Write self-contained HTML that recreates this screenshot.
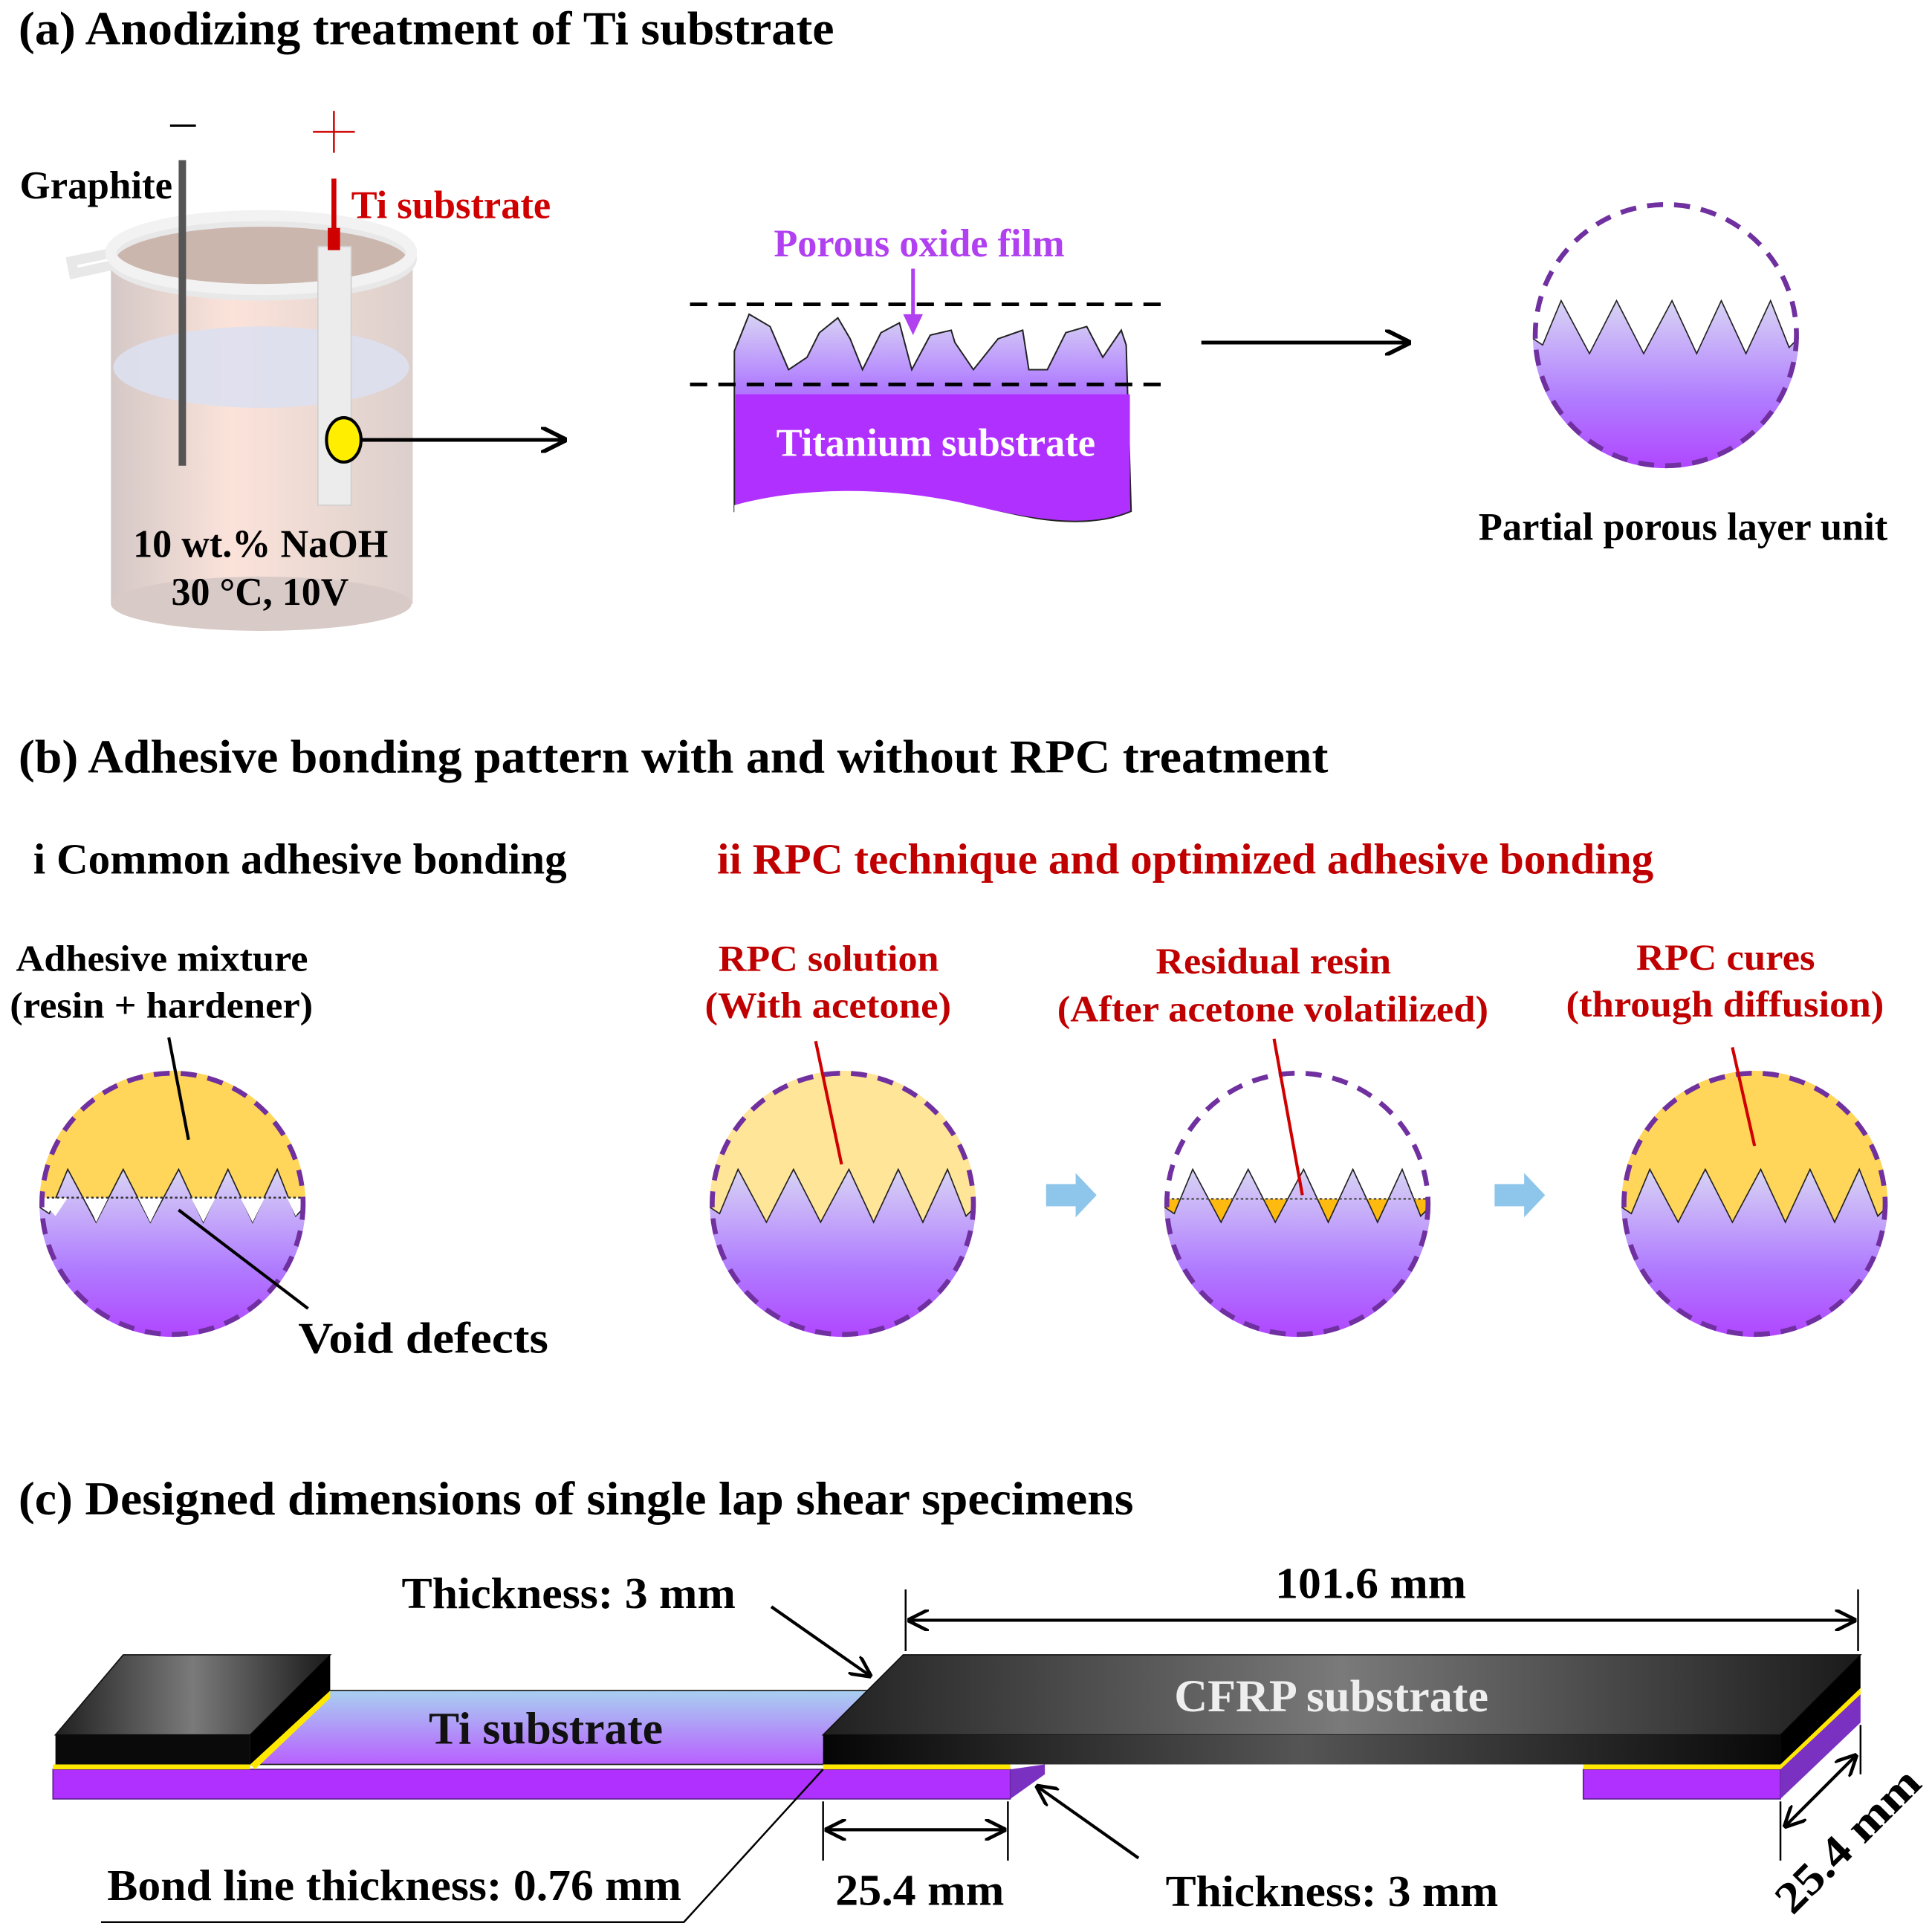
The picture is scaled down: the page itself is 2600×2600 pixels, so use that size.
<!DOCTYPE html>
<html><head><meta charset="utf-8"><style>
html,body{margin:0;padding:0;background:#fff}
svg{display:block}
text{font-family:"Liberation Serif",serif;font-weight:bold}
</style></head><body>
<svg width="2600" height="2600" viewBox="0 0 1568 1568" xmlns="http://www.w3.org/2000/svg">
<defs>
<linearGradient id="pg" x1="0" y1="0" x2="0" y2="1">
<stop offset="0" stop-color="#d8d4f4"/><stop offset="0.35" stop-color="#b07cff"/><stop offset="0.7" stop-color="#b030ff"/><stop offset="1" stop-color="#b030ff"/></linearGradient>
<linearGradient id="beak" x1="0" y1="0" x2="1" y2="0">
<stop offset="0" stop-color="#cfc2c0"/><stop offset="0.4" stop-color="#fbe0d6"/><stop offset="1" stop-color="#d8cac6"/></linearGradient>
<linearGradient id="tig" x1="0" y1="0" x2="0" y2="1">
<stop offset="0" stop-color="#a8d0f0"/><stop offset="1" stop-color="#b860ff"/></linearGradient>
<linearGradient id="cf" x1="0" y1="0" x2="1" y2="0">
<stop offset="0" stop-color="#202020"/><stop offset="0.5" stop-color="#7a7a7a"/><stop offset="1" stop-color="#1a1a1a"/></linearGradient>
<linearGradient id="cff" x1="0" y1="0" x2="1" y2="0">
<stop offset="0" stop-color="#050505"/><stop offset="0.5" stop-color="#555"/><stop offset="1" stop-color="#080808"/></linearGradient>
<marker id="ah" viewBox="0 0 10 10" refX="9" refY="5" markerWidth="7" markerHeight="7" orient="auto-start-reverse"><path d="M0,0 L10,5 L0,10" fill="none" stroke="#000" stroke-width="1.6"/></marker>
<clipPath id="c1"><circle cx="0" cy="0" r="108"/></clipPath>
<path id="teeth" d="M-115,200 L-115,-2 L-100,8 L-85,-28 L-62,15 L-40,-28 L-18,15 L5,-28 L25,15 L45,-28 L65,15 L85,-28 L100,10 L115,-5 L115,200 Z"/>
</defs>

<g lengthAdjust="spacingAndGlyphs">
<text x="15" y="36" font-size="38" textLength="662" lengthAdjust="spacingAndGlyphs">(a) Anodizing treatment of Ti substrate</text>
<text x="15" y="627" font-size="38" textLength="1063" lengthAdjust="spacingAndGlyphs">(b) Adhesive bonding pattern with and without RPC treatment</text>
<text x="15" y="1229" font-size="38" textLength="905" lengthAdjust="spacingAndGlyphs">(c) Designed dimensions of single lap shear specimens</text>
</g>

<!-- (a) beaker -->
<rect x="90" y="205" width="245" height="285" fill="url(#beak)" opacity="0.9"/>
<ellipse cx="212" cy="490" rx="122" ry="22" fill="#d8cac6"/>
<ellipse cx="212" cy="205" rx="122" ry="30" fill="#cbb6ae"/>
<ellipse cx="212" cy="298" rx="120" ry="33" fill="#dde0ef" opacity="0.9"/>
<path d="M58,212 L92,205 A122,30 0 1 1 92,215 L60,222 Z" fill="none" stroke="#e8e8e8" stroke-width="8"/>
<ellipse cx="212" cy="205" rx="122" ry="30" fill="none" stroke="#f2f2f2" stroke-width="9"/>
<line x1="148" y1="130" x2="148" y2="378" stroke="#555" stroke-width="6"/>
<rect x="258" y="200" width="27" height="210" fill="#ececec" stroke="#cfcfcf"/>
<line x1="271" y1="145" x2="271" y2="195" stroke="#d00000" stroke-width="4"/>
<rect x="266" y="185" width="10" height="18" fill="#d00000"/>
<ellipse cx="279" cy="357" rx="14" ry="18" fill="#ffee00" stroke="#000" stroke-width="2.5"/>
<line x1="293" y1="357" x2="458" y2="357" stroke="#000" stroke-width="3" marker-end="url(#ah)"/>
<line x1="138" y1="102" x2="159" y2="102" stroke="#000" stroke-width="2"/>
<line x1="254" y1="107" x2="288" y2="107" stroke="#d00000" stroke-width="1.5"/>
<line x1="271" y1="90" x2="271" y2="124" stroke="#d00000" stroke-width="1.5"/>
<text x="16" y="161" font-size="32" textLength="124" lengthAdjust="spacingAndGlyphs">Graphite</text>
<text x="285" y="177" font-size="32" fill="#d00000" textLength="162" lengthAdjust="spacingAndGlyphs">Ti substrate</text>
<text x="108" y="452" font-size="32" textLength="207" lengthAdjust="spacingAndGlyphs">10 wt.% NaOH</text>
<text x="139" y="491" font-size="32" textLength="144" lengthAdjust="spacingAndGlyphs">30 °C, 10V</text>

<!-- substrate -->
<path d="M596,285 L608,255 L625,265 L640,300 L655,290 L665,270 L680,258 L690,275 L700,300 L715,270 L730,262 L740,300 L755,272 L772,268 L775,278 L790,300 L810,275 L830,268 L835,300 L850,300 L865,270 L882,265 L895,290 L910,268 L914,280 L918,415 C860,440 780,400 700,400 C650,400 620,410 596,415 Z" fill="url(#pg)" stroke="#222" stroke-width="1.2"/>
<rect x="597" y="320" width="320" height="95" fill="#b030ff"/>
<path d="M596,410 C650,395 720,395 780,408 C840,422 880,432 918,418 L918,440 L596,440 Z" fill="#fff"/>
<line x1="560" y1="247" x2="950" y2="247" stroke="#000" stroke-width="3" stroke-dasharray="14 9"/>
<line x1="560" y1="312" x2="950" y2="312" stroke="#000" stroke-width="3" stroke-dasharray="14 9"/>
<text x="630" y="370" font-size="32" fill="#fff" textLength="259" lengthAdjust="spacingAndGlyphs">Titanium substrate</text>
<text x="628" y="208" font-size="32" fill="#b040f0" textLength="236" lengthAdjust="spacingAndGlyphs">Porous oxide film</text>
<line x1="741" y1="218" x2="741" y2="262" stroke="#b040f0" stroke-width="3"/>
<path d="M733,255 L741,272 L749,255 Z" fill="#b040f0"/>
<line x1="975" y1="278" x2="1143" y2="278" stroke="#000" stroke-width="3" marker-end="url(#ah)"/>

<!-- partial porous unit -->
<g transform="translate(1352,272)">
<g clip-path="url(#c1)"><use href="#teeth" fill="url(#pg)" stroke="#222" stroke-width="1"/></g>
<circle r="106" fill="none" stroke="#7030a0" stroke-width="4" stroke-dasharray="13 9"/>
</g>
<text x="1200" y="438" font-size="32" textLength="332" lengthAdjust="spacingAndGlyphs">Partial porous layer unit</text>

<!-- (b) -->
<text x="27" y="709" font-size="35" textLength="433" lengthAdjust="spacingAndGlyphs">i Common adhesive bonding</text>
<text x="582" y="709" font-size="35" fill="#c00000" textLength="760" lengthAdjust="spacingAndGlyphs">ii RPC technique and optimized adhesive bonding</text>

<text x="13" y="788" font-size="30" textLength="237" lengthAdjust="spacingAndGlyphs">Adhesive mixture</text>
<text x="8" y="826" font-size="30" textLength="246" lengthAdjust="spacingAndGlyphs">(resin + hardener)</text>
<text x="583" y="788" font-size="30" fill="#c00000" textLength="179" lengthAdjust="spacingAndGlyphs">RPC solution</text>
<text x="572" y="826" font-size="30" fill="#c00000" textLength="200" lengthAdjust="spacingAndGlyphs">(With acetone)</text>
<text x="938" y="790" font-size="30" fill="#c00000" textLength="191" lengthAdjust="spacingAndGlyphs">Residual resin</text>
<text x="858" y="829" font-size="30" fill="#c00000" textLength="350" lengthAdjust="spacingAndGlyphs">(After acetone volatilized)</text>
<text x="1328" y="787" font-size="30" fill="#c00000" textLength="145" lengthAdjust="spacingAndGlyphs">RPC cures</text>
<text x="1271" y="825" font-size="30" fill="#c00000" textLength="258" lengthAdjust="spacingAndGlyphs">(through diffusion)</text>

<g transform="translate(140,977)">
<g clip-path="url(#c1)">
<rect x="-110" y="-110" width="220" height="105" fill="#ffd55a"/>
<use href="#teeth" fill="url(#pg)" stroke="#222" stroke-width="1"/>
<path d="M-108,-4 L-95,10 L-85,-5 Z M-70,-5 L-62,15 L-52,-5 Z M-28,-5 L-18,15 L-8,-5 Z M15,-5 L25,15 L35,-5 Z M55,-5 L65,15 L75,-5 Z M93,-5 L100,10 L110,-5 Z" fill="#fff"/>
<line x1="-110" y1="-5" x2="110" y2="-5" stroke="#333" stroke-width="1.5" stroke-dasharray="2 2"/>
</g>
<circle r="106" fill="none" stroke="#7030a0" stroke-width="4" stroke-dasharray="13 9"/>
</g>
<line x1="137" y1="842" x2="153" y2="925" stroke="#000" stroke-width="2.5"/>
<line x1="145" y1="982" x2="250" y2="1062" stroke="#000" stroke-width="2.5"/>
<text x="242" y="1098" font-size="36" textLength="203" lengthAdjust="spacingAndGlyphs">Void defects</text>

<g transform="translate(684,977)">
<g clip-path="url(#c1)">
<rect x="-110" y="-110" width="220" height="130" fill="#ffe598"/>
<use href="#teeth" fill="url(#pg)" stroke="#222" stroke-width="1"/>
</g>
<circle r="106" fill="none" stroke="#7030a0" stroke-width="4" stroke-dasharray="13 9"/>
</g>
<line x1="662" y1="845" x2="683" y2="945" stroke="#d00000" stroke-width="2.5"/>

<path d="M849,961 L873,961 L873,952 L890,970 L873,988 L873,979 L849,979 Z" fill="#8ec5ea"/>

<g transform="translate(1053,977)">
<g clip-path="url(#c1)">
<rect x="-110" y="-4" width="220" height="40" fill="#ffba10"/>
<use href="#teeth" fill="url(#pg)" stroke="#222" stroke-width="1"/>
<line x1="-110" y1="-4" x2="110" y2="-4" stroke="#555" stroke-width="1.5" stroke-dasharray="2 2"/>
</g>
<circle r="106" fill="none" stroke="#7030a0" stroke-width="4" stroke-dasharray="13 9"/>
</g>
<line x1="1034" y1="843" x2="1057" y2="970" stroke="#d00000" stroke-width="2.5"/>

<path d="M1213,961 L1237,961 L1237,952 L1254,970 L1237,988 L1237,979 L1213,979 Z" fill="#8ec5ea"/>

<g transform="translate(1424,977)">
<g clip-path="url(#c1)">
<rect x="-110" y="-110" width="220" height="130" fill="#ffd55a"/>
<use href="#teeth" fill="url(#pg)" stroke="#222" stroke-width="1"/>
</g>
<circle r="106" fill="none" stroke="#7030a0" stroke-width="4" stroke-dasharray="13 9"/>
</g>
<line x1="1406" y1="850" x2="1424" y2="930" stroke="#d00000" stroke-width="2.5"/>

<!-- (c) -->
<rect x="43" y="1436" width="777" height="24" fill="#b030ff" stroke="#5a2090" stroke-width="1"/>
<polygon points="820,1436 848,1432 848,1440 820,1460" fill="#7a30c0"/>
<polygon points="203,1432 268,1372 705,1372 668,1432" fill="url(#tig)" stroke="#222" stroke-width="1"/>
<rect x="43" y="1432" width="160" height="4" fill="#ffe800"/>
<polygon points="203,1432 268,1372 268,1378 207,1436" fill="#ffe800"/>
<polygon points="45,1408 100,1343 268,1343 203,1408" fill="url(#cf)" stroke="#111"/>
<polygon points="203,1408 268,1343 268,1372 203,1432" fill="#000"/>
<rect x="45" y="1408" width="158" height="24" fill="#0a0a0a"/>
<rect x="1285" y="1436" width="160" height="24" fill="#b030ff" stroke="#5a2090" stroke-width="1"/>
<polygon points="1445,1436 1510,1375 1510,1398 1445,1460" fill="#7a30c0"/>
<rect x="1285" y="1432" width="160" height="4" fill="#ffe800"/>
<rect x="668" y="1432" width="152" height="4" fill="#ffe800"/>
<polygon points="1445,1432 1510,1370 1510,1375 1445,1436" fill="#ffe800"/>
<polygon points="668,1408 733,1343 1510,1343 1445,1408" fill="url(#cf)" stroke="#111"/>
<rect x="668" y="1408" width="777" height="24" fill="url(#cff)"/>
<polygon points="1445,1408 1510,1343 1510,1370 1445,1432" fill="#000"/>
<text x="953" y="1389" font-size="37" fill="#eee" textLength="255" lengthAdjust="spacingAndGlyphs">CFRP substrate</text>
<text x="348" y="1415" font-size="37" fill="#111" textLength="190" lengthAdjust="spacingAndGlyphs">Ti substrate</text>

<line x1="735" y1="1290" x2="735" y2="1340" stroke="#000" stroke-width="1.5"/>
<line x1="1508" y1="1290" x2="1508" y2="1340" stroke="#000" stroke-width="1.5"/>
<line x1="738" y1="1315" x2="1505" y2="1315" stroke="#000" stroke-width="2.5" marker-start="url(#ah)" marker-end="url(#ah)"/>
<text x="1035" y="1297" font-size="36" textLength="155" lengthAdjust="spacingAndGlyphs">101.6 mm</text>
<text x="326" y="1305" font-size="36" textLength="271" lengthAdjust="spacingAndGlyphs">Thickness: 3 mm</text>
<line x1="626" y1="1304" x2="706" y2="1360" stroke="#000" stroke-width="2.5" marker-end="url(#ah)"/>
<line x1="668" y1="1462" x2="668" y2="1510" stroke="#000" stroke-width="1.5"/>
<line x1="818" y1="1462" x2="818" y2="1510" stroke="#000" stroke-width="1.5"/>
<line x1="671" y1="1485" x2="815" y2="1485" stroke="#000" stroke-width="2.5" marker-start="url(#ah)" marker-end="url(#ah)"/>
<text x="678" y="1546" font-size="36" textLength="137" lengthAdjust="spacingAndGlyphs">25.4 mm</text>
<text x="946" y="1547" font-size="36" textLength="270" lengthAdjust="spacingAndGlyphs">Thickness: 3 mm</text>
<line x1="924" y1="1508" x2="842" y2="1450" stroke="#000" stroke-width="2.5" marker-end="url(#ah)"/>
<text x="87" y="1542" font-size="36" textLength="466" lengthAdjust="spacingAndGlyphs">Bond line thickness: 0.76 mm</text>
<polyline points="82,1560 555,1560 668,1436" fill="none" stroke="#000" stroke-width="1.5"/>
<line x1="1445" y1="1462" x2="1445" y2="1510" stroke="#000" stroke-width="1.5"/>
<line x1="1510" y1="1400" x2="1510" y2="1440" stroke="#000" stroke-width="1.5"/>
<line x1="1449" y1="1482" x2="1506" y2="1425" stroke="#000" stroke-width="2.5" marker-start="url(#ah)" marker-end="url(#ah)"/>
<text x="1508" y="1502" font-size="36" text-anchor="middle" transform="rotate(-45 1508 1502)" textLength="150" lengthAdjust="spacingAndGlyphs">25.4 mm</text>
</svg>
</body></html>
